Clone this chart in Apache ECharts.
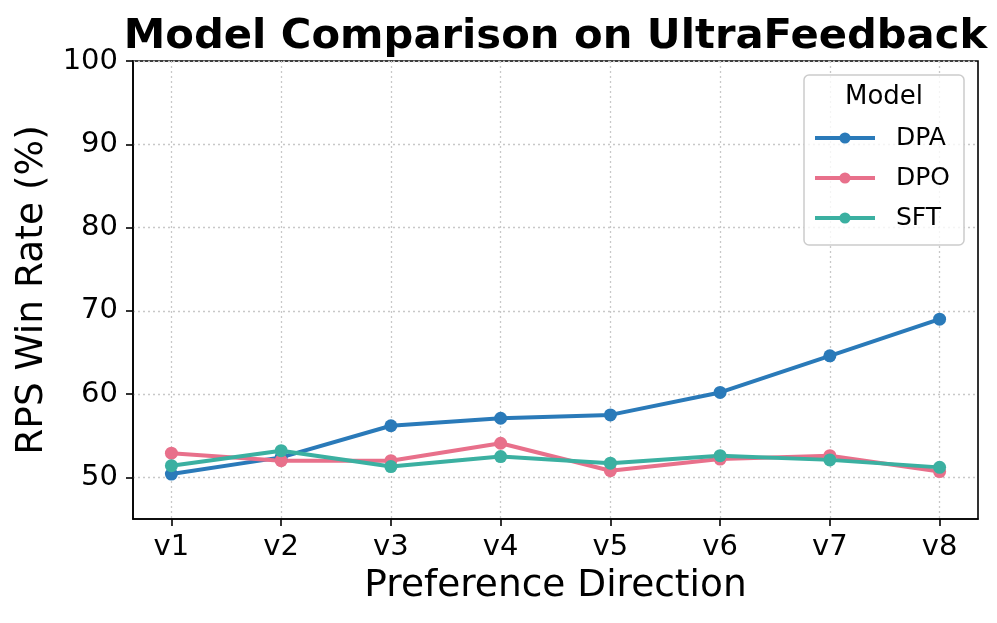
<!DOCTYPE html>
<html>
<head>
<meta charset="utf-8">
<script src="https://cdn.jsdelivr.net/npm/echarts@6/dist/echarts.min.js"></script>
<style>html,body{margin:0;padding:0;background:#fff}#c{width:997px;height:623px}</style>
</head>
<body>
<div id="c"></div>
<script>
const categories = ['v1','v2','v3','v4','v5','v6','v7','v8'];
const dpa = [50.4, 52.4, 56.2, 57.1, 57.5, 60.2, 64.6, 69.0];
const dpo = [52.9, 52.0, 52.0, 54.1, 50.8, 52.2, 52.6, 50.7];
const sft = [51.4, 53.2, 51.3, 52.5, 51.7, 52.6, 52.1, 51.2];
const yTicks = [50, 60, 70, 80, 90, 100];

const FONT = 'DejaVu Sans';
const xIdx = categories.map((c, i) => i);
function pairs(arr) { return arr.map((v, i) => [i, v]); }

const chart = echarts.init(document.getElementById('c'), null, {renderer: 'canvas'});
const mk = (name, data, color) => ({
  name, type: 'line', data: pairs(data),
  symbol: 'circle', symbolSize: 13,
  lineStyle: {width: 4, color},
  itemStyle: {color},
  emphasis: {disabled: true},
  animation: false
});
chart.setOption({
  animation: false,
  backgroundColor: '#fff',
  grid: {left: 133, right: 19, top: 61, bottom: 104, show: true, borderColor: '#000', borderWidth: 1.6, backgroundColor: 'transparent'},
  graphic: [
    {type: 'text', style: {text: 'Model Comparison on UltraFeedback', x: 555.5, y: 37, align: 'center', verticalAlign: 'middle', font: 'bold 41.7px "DejaVu Sans"', fill: '#000'}},
    {type: 'rect', shape: {x: 804, y: 75, width: 160, height: 170, r: 5}, style: {fill: 'rgba(255,255,255,0.8)', stroke: '#cccccc', lineWidth: 1.5}, z: 10},
    {type: 'text', style: {text: 'Model', x: 884, y: 97, align: 'center', verticalAlign: 'middle', font: '26px "DejaVu Sans"', fill: '#000'}, z: 11}
  ],
  legend: {
    orient: 'vertical', left: 813, top: 123, itemWidth: 60, itemHeight: 14, itemGap: 10,
    padding: 0, z: 12,
    lineStyle: {width: 4},
    textStyle: {fontFamily: FONT, fontSize: 25, color: '#000', lineHeight: 30, padding: [0,0,0,16]},
    data: ['DPA', 'DPO', 'SFT']
  },
  xAxis: {
    type: 'value', min: -0.35, max: 7.35,
    name: 'Preference Direction', nameLocation: 'middle', nameGap: 46,
    nameTextStyle: {fontFamily: FONT, fontSize: 37.5, color: '#000'},
    axisLine: {show: true, onZero: false, lineStyle: {color: '#000', width: 1.6}},
    axisTick: {show: true, length: 7, lineStyle: {color: '#000', width: 1.6}, customValues: xIdx},
    axisLabel: {fontFamily: FONT, fontSize: 29, color: '#000', margin: 14, customValues: xIdx, formatter: v => categories[Math.round(v)] || ''},
    splitLine: {show: true, lineStyle: {color: '#c8c8c8', width: 1.3, type: [2, 3]}}
  },
  yAxis: {
    type: 'value', min: 45, max: 100,
    name: 'RPS Win Rate (%)', nameLocation: 'middle', nameGap: 76,
    nameTextStyle: {fontFamily: FONT, fontSize: 37.5, color: '#000'},
    axisLine: {show: true, onZero: false, lineStyle: {color: '#000', width: 1.6}},
    axisTick: {show: true, length: 7, lineStyle: {color: '#000', width: 1.6}, customValues: yTicks},
    axisLabel: {fontFamily: FONT, fontSize: 29, color: '#000', margin: 15, customValues: yTicks},
    splitLine: {show: true, lineStyle: {color: '#c8c8c8', width: 1.3, type: [2, 3]}}
  },
  series: [
    mk('DPA', dpa, '#2a7ab9'),
    mk('DPO', dpo, '#e8708b'),
    mk('SFT', sft, '#3bb0a1')
  ]
});
</script>
</body>
</html>
